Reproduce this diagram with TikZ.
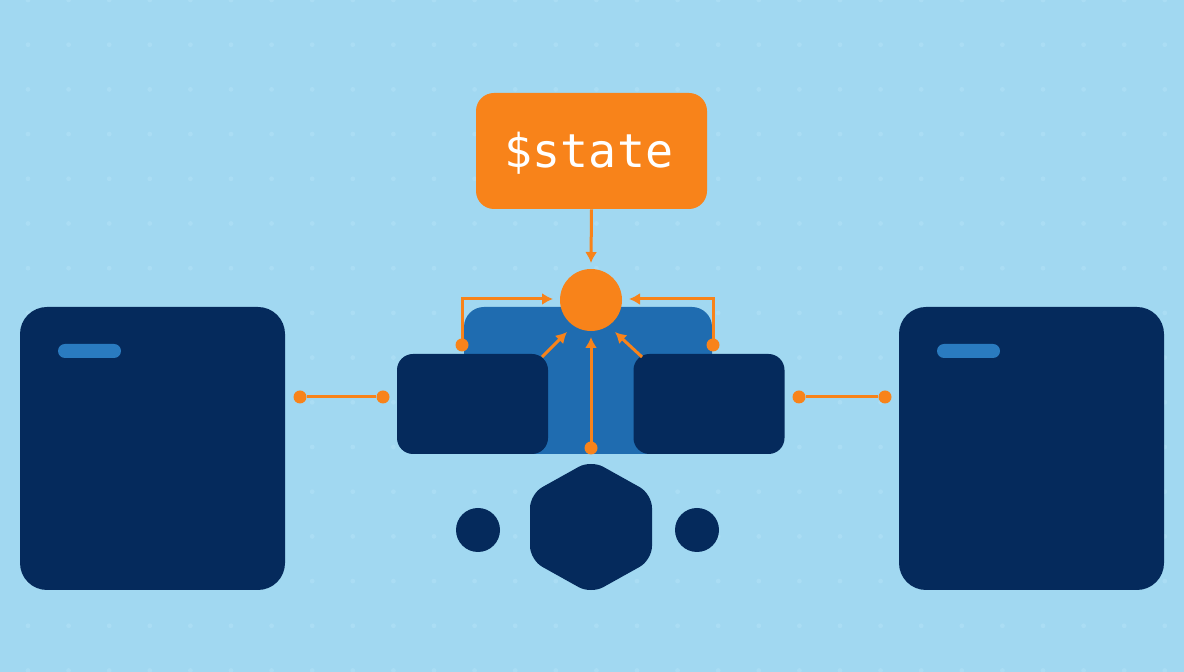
\documentclass[tikz,border=0pt]{standalone}
\usepackage{fontspec}
\newfontfamily\statefont{DejaVu Sans Mono}
\usetikzlibrary{arrows.meta}
\definecolor{bgblue}{HTML}{A1D8F1}
\definecolor{gridtone}{HTML}{AADDF4}
\definecolor{navy}{HTML}{052A5C}
\definecolor{midblue}{HTML}{1F6CB0}
\definecolor{barblue}{HTML}{2A7BC0}
\definecolor{orng}{HTML}{F8831A}
\tikzset{
  bigbox/.style={fill=navy, rounded corners=13.5pt, inner sep=0pt, minimum width=132.5pt, minimum height=141.5pt},
  barbox/.style={fill=barblue, rounded corners=3.5pt, inner sep=0pt, minimum width=31.5pt, minimum height=7pt},
  smallbox/.style={fill=navy, rounded corners=8pt, inner sep=0pt, minimum width=75.5pt, minimum height=50pt},
  backbox/.style={fill=midblue, rounded corners=10pt, inner sep=0pt, minimum width=124pt, minimum height=73.5pt},
  hub/.style={circle, fill=orng, inner sep=0pt, minimum size=31pt},
  statebox/.style={fill=orng, rounded corners=9pt, inner sep=0pt, minimum width=115.5pt, minimum height=58pt},
  statetext/.style={text=white, inner sep=0pt, font=\statefont\fontsize{23.3}{28}\selectfont},
  navydot/.style={circle, fill=navy, inner sep=0pt, minimum size=22pt},
  pin/.style={circle, fill=orng, inner sep=0pt, minimum size=6.5pt},
  wire/.style={draw=orng, line width=1.5pt},
  arrowwire/.style={wire, -{Latex[length=5.5pt,width=6pt]}}
}
\begin{document}
\begin{tikzpicture}[x=0.5pt,y=-0.5pt]
\useasboundingbox (0,0) rectangle (1184,672);
\fill[bgblue] (0,0) rectangle (1184,672);
% faint dot grid
\foreach \i in {0,...,28}{
  \foreach \j in {0,...,15}{
    \fill[gridtone] ({28+40.6*\i},{44.7*\j}) circle (1.2pt);
  }
}
% side boxes
\node[bigbox] (lbig) at (152.5,448.5) {};
\node[bigbox] (rbig) at (1031.5,448.5) {};
\node[barbox] (lbar) at (89.5,351) {};
\node[barbox] (rbar) at (968.5,351) {};
% center cluster
\node[backbox] (back) at (588,380.5) {};
\node[smallbox] (lsmall) at (472.5,404) {};
\node[smallbox] (rsmall) at (709,404) {};
\node[hub] (hub) at (591,300) {};
\node[statebox] (state) at (591.5,151) {};
\node[statetext] (statelabel) at (589,153) {\$state};
% bottom shapes
\node[navydot] (ldot) at (478,530) {};
\node[navydot] (rdot) at (697,530) {};
\fill[navy, rounded corners=7pt] (591,460) -- (652,494) -- (652,560) -- (591,594) -- (530,560) -- (530,494) -- cycle;
% connectors
\coordinate (hubtop) at (591,263);
\draw[arrowwire] (state.south) -- (hubtop);
\node[pin] (lpin) at (462,345) {};
\node[pin] (rpin) at (713,345) {};
\coordinate (lin) at (553,299);
\coordinate (rin) at (629,299);
\draw[arrowwire] (lpin.center) |- (lin);
\draw[arrowwire] (rpin.center) |- (rin);
\coordinate (ldiag) at (542,357);
\coordinate (rdiag) at (642,357);
\coordinate (ldiagend) at (567,332);
\coordinate (rdiagend) at (615,332);
\draw[arrowwire] (ldiag) -- (ldiagend);
\draw[arrowwire] (rdiag) -- (rdiagend);
\node[pin] (bpin) at (591,448) {};
\coordinate (hubbot) at (591,337);
\draw[arrowwire] (bpin.center) -- (hubbot);
\node[pin] (la) at (300,397) {};
\node[pin] (lb) at (383,397) {};
\draw[wire] (la) -- (lb);
\node[pin] (ra) at (799,397) {};
\node[pin] (rb) at (885,397) {};
\draw[wire] (ra) -- (rb);
\end{tikzpicture}
\end{document}
